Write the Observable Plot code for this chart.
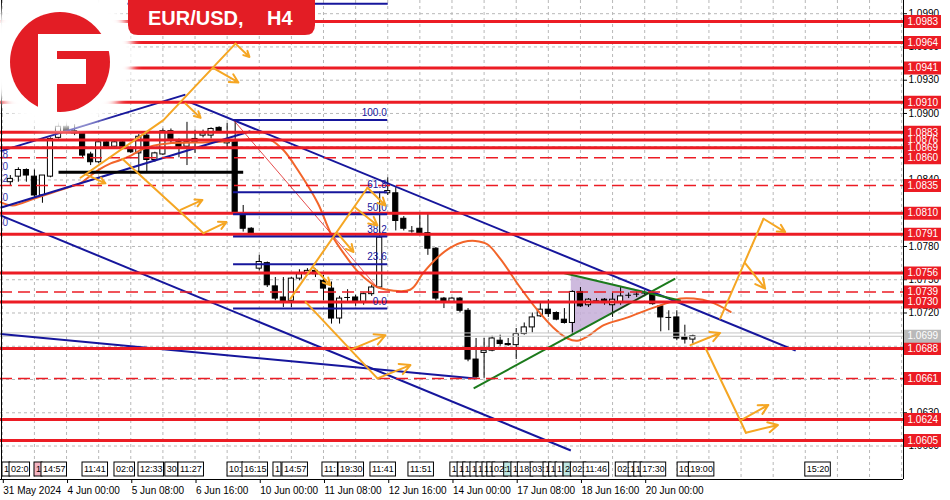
<!DOCTYPE html>
<html><head><meta charset="utf-8">
<script src="https://cdn.jsdelivr.net/npm/d3@7"></script>
<script src="https://cdn.jsdelivr.net/npm/@observablehq/plot@0.6"></script>
<style>
body{margin:0;background:#fff;}
#chart{width:950px;height:500px;}
</style></head><body><div id="chart"></div>
<script>
// EUR/USD H4 candles, bar 1 = 31 May 2024 20:00
const opens  = [1.0838,1.0843,1.0849,1.0843,1.0826,1.0843,1.0878,1.0888,1.0884,1.0882,1.0863,1.0856,1.0874,1.0870,1.0874,1.0868,1.0864,1.0880,1.0858,1.0863,1.0884,1.0874,1.0870,1.0874,1.0880,1.0880,1.0887,1.0873,1.0876,1.0808,1.0796,1.0760,1.0765,1.0744,1.0734,1.0731,1.0751,1.0755,1.0758,1.0749,1.0742,1.0715,1.0734,1.0734,1.0730,1.0737,1.0743,1.0828,1.0828,1.0805,1.0794,1.0796,1.0792,1.0778,1.0733,1.0730,1.0733,1.0722,1.0678,1.0684,1.0686,1.0695,1.0692,1.0691,1.0701,1.0707,1.0717,1.0723,1.0720,1.0714,1.0711,1.0739,1.0727,1.0731,1.0732,1.0727,1.0729,1.0736,1.0737,1.0738,1.0738,1.0726,1.0716,1.0716,1.0698,1.0696];
const highs  = [1.0844,1.0851,1.0850,1.0849,1.0844,1.0878,1.0892,1.0895,1.0890,1.0882,1.0865,1.0876,1.0876,1.0876,1.0875,1.0870,1.0881,1.0882,1.0865,1.0886,1.0886,1.0877,1.0892,1.0885,1.0885,1.0887,1.0888,1.0891,1.0894,1.0817,1.0797,1.0772,1.0766,1.0752,1.0752,1.0752,1.0759,1.0760,1.0760,1.0754,1.0748,1.0735,1.0741,1.0736,1.0738,1.0745,1.0829,1.0842,1.0833,1.0807,1.0798,1.0810,1.0810,1.0779,1.0734,1.0734,1.0734,1.0724,1.0697,1.0697,1.0699,1.0700,1.0697,1.0706,1.0711,1.0720,1.0729,1.0732,1.0721,1.0724,1.0740,1.0743,1.0733,1.0733,1.0733,1.0738,1.0743,1.0738,1.0739,1.0740,1.0740,1.0727,1.0722,1.0722,1.0709,1.0700];
const lows   = [1.0835,1.0838,1.0838,1.0823,1.0819,1.0842,1.0877,1.0882,1.0880,1.0860,1.0853,1.0855,1.0868,1.0868,1.0868,1.0864,1.0846,1.0846,1.0856,1.0862,1.0873,1.0860,1.0853,1.0864,1.0878,1.0877,1.0882,1.0869,1.0810,1.0793,1.0791,1.0758,1.0743,1.0731,1.0725,1.0725,1.0749,1.0754,1.0752,1.0731,1.0710,1.0710,1.0730,1.0726,1.0727,1.0735,1.0742,1.0826,1.0794,1.0794,1.0792,1.0791,1.0772,1.0731,1.0724,1.0729,1.0720,1.0676,1.0661,1.0661,1.0685,1.0690,1.0690,1.0678,1.0700,1.0702,1.0716,1.0716,1.0713,1.0710,1.0700,1.0725,1.0725,1.0729,1.0727,1.0716,1.0727,1.0733,1.0734,1.0735,1.0727,1.0703,1.0704,1.0695,1.0692,1.0692];
const closes = [1.0841,1.0849,1.0844,1.0826,1.0844,1.0877,1.0888,1.0884,1.0882,1.0862,1.0856,1.0874,1.0870,1.0874,1.0870,1.0865,1.0879,1.0858,1.0864,1.0884,1.0877,1.0870,1.0874,1.0877,1.0882,1.0886,1.0884,1.0875,1.0811,1.0796,1.0792,1.0766,1.0745,1.0733,1.0730,1.0751,1.0755,1.0758,1.0755,1.0742,1.0715,1.0733,1.0734,1.0730,1.0737,1.0743,1.0788,1.0830,1.0803,1.0796,1.0794,1.0792,1.0778,1.0733,1.0730,1.0733,1.0722,1.0678,1.0662,1.0686,1.0697,1.0692,1.0691,1.0701,1.0707,1.0716,1.0723,1.0719,1.0714,1.0711,1.0739,1.0726,1.0732,1.0731,1.0729,1.0732,1.0735,1.0736,1.0737,1.0738,1.0728,1.0716,1.0716,1.0697,1.0696,1.0699];

// moving average (bar position, price)
const maBars   = [-0.22,1.3,3.9,6.0,8.1,9.7,11.0,12.2,13.5,14.7,16.0,17.2,18.8,20.6,25.6,28.0,31.5,33.4,35.0,36.8,39.3,40.9,42.5,44.2,45.9,46.8,50.8,52.4,54.2,55.8,57.4,58.9,60.4,62.0,64.5,66.6,68.6,70.4,71.6,72.9,74.9,77.9,80.4,82.8,84.5,86.1,88.2,90.7];
const maPrices = [1.0820,1.0817,1.0823,1.0828,1.0833,1.0837,1.0844,1.0850,1.0855,1.0858,1.0862,1.0867,1.0871,1.0873,1.0874,1.0875,1.0877,1.0876,1.0867,1.0849,1.0819,1.0792,1.0774,1.0758,1.0747,1.0743,1.0741,1.0756,1.0770,1.0779,1.0784,1.0785,1.0782,1.0769,1.0743,1.0723,1.0707,1.0697,1.0695,1.0699,1.0709,1.0716,1.0723,1.0729,1.0733,1.0733,1.0730,1.0721];

// support / resistance levels
const levelsSolid  = [1.0983,1.0964,1.0941,1.0910,1.0883,1.0876,1.0869,1.0810,1.0791,1.0756,1.0730,1.0688,1.0624,1.0605];
const levelsDashed = [1.0860,1.0835,1.0739,1.0661];
const lastPrice = 1.0699;
const askPrice = 1.0702;

// Fibonacci retracement
const fibNames  = ["100.0","61.8","50.0","38.2","23.6","0.0"];
const fibPrices = [1.0894,1.0829,1.0809,1.0789,1.0764,1.0724];
const fibFrom = 28.8, fibTo = 48.0;
// ends of an older retracement's labels at the left edge
const oldFibNames  = ["8","0","2","0","0"];
const oldFibPrices = [1.0858,1.0847,1.0837,1.0819,1.0797];

// trend lines: [bar1, price1, bar2, price2]
const blueLines = [
  [23.4,1.0910,98.8,1.0686],
  [-0.22,1.0866,22.8,1.0917],
  [-0.22,1.0815,30.9,1.0884],
  [-0.22,1.0808,70.8,1.0596],
  [-0.22,1.0701,58.9,1.0661],
  [15.6,1.0999,48.0,1.0999]
];
const blackLines = [[7.0,1.0847,30.0,1.0847]];
const greenLines = [[58.7,1.0652,83.8,1.0751],[69.9,1.0756,84.5,1.0731]];
const triangle = [[70.8,1.0754],[80.7,1.0739],[70.8,1.0699]];
const triangleEdge = [75.7,1.0719,80.7,1.0739];
const fibDiagonal = [28.8,1.0894,46.7,1.0743];

// scenario paths and arrows
const scenarioPaths = [
  [[9.74,1.0842],[20.07,1.0894],[29.04,1.0963]],
  [[14.97,1.0859],[25.06,1.0792]],
  [[35.89,1.0733],[45.48,1.0833]],
  [[37.76,1.0730],[46.72,1.0661]],
  [[89.4,1.0715],[94.8,1.0805]],
  [[87.6,1.0688],[91.9,1.0623],[92.6,1.0612]]
];
const scenarioArrows = [
  [29.04,1.0963,30.78,1.0951],[26.3,1.0941,29.4,1.0928],[22.8,1.0909,24.7,1.0896],[10.4,1.0845,12.85,1.0837],
  [25.06,1.0792,27.92,1.0802],[22.19,1.0813,24.93,1.0822],
  [45.48,1.0833,47.72,1.0817],[43.98,1.0815,46.72,1.0799],[41.74,1.0792,43.74,1.0775],[38.76,1.0761,40.87,1.0745],
  [46.72,1.0661,50.83,1.0673],[43.4,1.0687,47.72,1.0700],
  [85.7,1.0691,89.4,1.0702],
  [94.8,1.0805,97.5,1.0793],[92.5,1.0765,95.0,1.0742],
  [91.9,1.0623,95.4,1.0637],[92.6,1.0612,96.6,1.0619]
];

// axes
const yTicks = [1.0600,1.0630,1.0660,1.0690,1.0720,1.0750,1.0780,1.0810,1.0840,1.0870,1.0900,1.0930,1.0960,1.0990];
const tickBars = [0,8,16,24,32,40,48,56,64,72,80];
const tickLabels = ["31 May 2024","4 Jun 00:00","5 Jun 08:00","6 Jun 16:00","10 Jun 00:00","11 Jun 08:00","12 Jun 16:00","14 Jun 00:00","17 Jun 08:00","18 Jun 16:00","20 Jun 00:00"];

// event time markers along the bottom
const eventBars  = [0.02,0.9,4.01,4.88,9.99,13.97,16.96,20.3,21.94,28.05,29.91,33.77,34.89,39.87,41.87,45.85,50.58,55.8,56.7,57.4,58.3,59.05,59.8,60.4,61.05,62.5,63.4,64.2,65.8,67.4,68.1,68.9,69.9,70.8,72.4,76.4,78.0,78.7,79.5,84.1,85.5,100.0];
const eventTexts = ["1","02:0","1","14:57","11:41","02:0","12:33","30","11:27","10:","16:15","1","14:57","11:","19:30","11:41","11:51","1","1","1","1","1","1","1","02:","1","1","18:","03:","1","1","1","2","02:","11:46","02:","1","1","17:30","10","19:00","15:20"];
const eventKinds = ["w","w","p","w","w","w","w","w","w","w","w","w","w","w","w","w","w","w","w","w","w","w","w","w","w","c","w","w","w","w","w","w","c","w","w","w","w","w","w","w","w","w"];

// ---- layout ----
const plotRight = 903, plotBottom = 479;
const xDomain = [-0.224, 112.23];
const yDomain = [1.05698, 1.10019];
const pxPerBar = plotRight / (xDomain[1] - xDomain[0]);
const xAt = px => xDomain[0] + px / pxPerBar;
const pricePerPx = (yDomain[1] - yDomain[0]) / plotBottom;
const yAt = px => yDomain[1] - px * pricePerPx;

const RED = "#ec1c24", BLUE = "#16169c", GREEN = "#1b7a1b", ORANGE = "#f5a623", MA = "#f2652a";

const candles = opens.map((o, i) => ({k: i + 1, o, h: highs[i], l: lows[i], c: closes[i]}));
const bodies = candles.filter(d => d.o !== d.c);
const dojis = candles.filter(d => d.o === d.c);
const ma = maBars.map((k, i) => ({k, p: maPrices[i]}));
const seg = a => ({x1: a[0], y1: a[1], x2: a[2], y2: a[3]});
const paths = scenarioPaths.flatMap((pts, z) => pts.map(([k, p]) => ({k, p, z})));
const fibs = fibNames.map((n, i) => ({n, p: fibPrices[i]}));
const oldFibs = oldFibNames.map((n, i) => ({n, p: oldFibPrices[i]}));
const labelOf = new Map(tickBars.map((b, i) => [b, tickLabels[i]]));
const charW = ch => ch === ":" ? 2.5 : 5;
const events = eventBars.map((k, i) => {
  const t = eventTexts[i];
  const w = 3 + [...t].reduce((s, ch) => s + charW(ch), 0);
  return {k, t, w, kind: eventKinds[i]};
});
const eventFill = {w: "white", p: "#f5b5c3", c: "#bfe8e4"};
const tri = triangle.map(([k, p]) => ({k, p}));
const priceLabels = levelsSolid.concat(levelsDashed);
// scale labels that would sit entirely under a level tag are left unprinted
const allTags = priceLabels.concat([lastPrice]);
const tickVisible = t => !allTags.some(p => Math.abs(p - t) < 0.00025);

const chart = Plot.plot({
  width: 950, height: 500,
  marginLeft: 0, marginRight: 950 - plotRight, marginTop: 0, marginBottom: 500 - plotBottom,
  x: {domain: xDomain, axis: null},
  y: {domain: yDomain, axis: null},
  style: {fontFamily: "'Liberation Sans', Arial, sans-serif", fontSize: "10px", background: "white", overflow: "visible"},
  marks: [
    // grid
    Plot.ruleY(yTicks, {stroke: "#b8b8b8", strokeDasharray: "3,3", strokeWidth: 1}),
    Plot.ruleX(d3.range(0, 113, 4), {stroke: "#b8b8b8", strokeDasharray: "3,3", strokeWidth: 1}),
    // consolidation triangle
    Plot.line(tri.concat([tri[0]]), {x: "k", y: "p", fill: "#c6aed8", fillOpacity: 0.85, stroke: "none"}),
    // candles
    Plot.ruleX(candles, {x: "k", y1: "l", y2: "h", stroke: "black", strokeWidth: 1}),
    Plot.rect(bodies, {x1: d => d.k - 0.32, x2: d => d.k + 0.32, y1: "o", y2: "c", fill: d => d.c > d.o ? "white" : "black", stroke: "black", strokeWidth: 1}),
    Plot.ruleY(dojis, {y: "o", x1: d => d.k - 0.36, x2: d => d.k + 0.36, stroke: "black", strokeWidth: 1}),
    // moving average
    Plot.line(ma, {x: "k", y: "p", stroke: MA, strokeWidth: 2, curve: "catmull-rom"}),
    // bid / ask
    Plot.ruleY([askPrice, lastPrice], {stroke: "#c4c4c4", strokeWidth: 1}),
    // trend lines
    Plot.link(blueLines.map(seg), {x1: "x1", y1: "y1", x2: "x2", y2: "y2", stroke: BLUE, strokeWidth: 2}),
    Plot.link(blackLines.map(seg), {x1: "x1", y1: "y1", x2: "x2", y2: "y2", stroke: "black", strokeWidth: 3}),
    Plot.link([seg(fibDiagonal)], {x1: "x1", y1: "y1", x2: "x2", y2: "y2", stroke: "#e02020", strokeWidth: 0.8}),
    Plot.link(greenLines.map(seg), {x1: "x1", y1: "y1", x2: "x2", y2: "y2", stroke: GREEN, strokeWidth: 2}),
    Plot.link([seg(triangleEdge)], {x1: "x1", y1: "y1", x2: "x2", y2: "y2", stroke: "#222", strokeWidth: 1}),
    // levels
    Plot.ruleY(levelsSolid, {stroke: RED, strokeWidth: 3}),
    Plot.ruleY(levelsDashed, {stroke: RED, strokeWidth: 1.5, strokeDasharray: "12,6"}),
    // Fibonacci
    Plot.ruleY(fibs, {y: "p", x1: () => fibFrom, x2: () => fibTo, stroke: BLUE, strokeWidth: 2}),
    Plot.text(fibs, {x: () => fibTo, y: "p", text: "n", textAnchor: "end", dy: -7, dx: -1, fill: BLUE, fontSize: 10}),
    Plot.text(oldFibs, {x: () => xAt(2), y: "p", text: "n", textAnchor: "start", dy: -5, fill: "#3a3ab0", fontSize: 10}),
    // scenarios
    Plot.line(paths, {x: "k", y: "p", z: "z", stroke: ORANGE, strokeWidth: 2}),
    Plot.arrow(scenarioArrows.map(seg), {x1: "x1", y1: "y1", x2: "x2", y2: "y2", stroke: ORANGE, strokeWidth: 2, headLength: 9, headAngle: 55}),
    // frame
    Plot.ruleX([xDomain[0] + 1 / pxPerBar, xDomain[1]], {stroke: "black", strokeWidth: 1}),
    Plot.ruleY([yDomain[0]], {stroke: "black", strokeWidth: 1}),
    // price scale
    Plot.axisY(yTicks, {anchor: "right", tickFormat: d => tickVisible(d) ? d.toFixed(4) : "", tickSize: 3, tickPadding: 2, fontSize: 10, fill: "black"}),
    Plot.ruleY(priceLabels, {x1: () => xAt(904), x2: () => xAt(941), stroke: RED, strokeWidth: 13}),
    Plot.text(priceLabels, {x: () => xAt(907), y: d => d, text: d => d.toFixed(4), textAnchor: "start", fill: "white", fontSize: 10}),
    Plot.ruleY([lastPrice], {x1: () => xAt(904), x2: () => xAt(941), stroke: "#b9b9b9", strokeWidth: 13}),
    Plot.text([lastPrice], {x: () => xAt(907), y: d => d, text: d => d.toFixed(4), textAnchor: "start", fill: "white", fontSize: 10}),
    // time scale
    Plot.axisX(tickBars, {anchor: "bottom", tickFormat: d => labelOf.get(d), tickSize: 4, tickPadding: 3, textAnchor: "start", dx: 1, fontSize: 10, fill: "black"}),
    // event markers
    Plot.rect(events, {x1: "k", x2: d => d.k + d.w / pxPerBar, y1: () => yAt(476), y2: () => yAt(462), fill: d => eventFill[d.kind], stroke: "black", strokeWidth: 1}),
    Plot.text(events, {x: d => d.k + 1.5 / pxPerBar, y: () => yAt(469), text: "t", textAnchor: "start", fontSize: 9, fill: "black"})
  ]
});
document.getElementById("chart").append(chart);

// brand logo and instrument title
const svg = d3.select(chart);
const defs = svg.append("defs");
defs.append("filter").attr("id", "soft").append("feGaussianBlur").attr("stdDeviation", 4);
const logo = svg.append("g");
logo.append("circle").attr("cx", 60).attr("cy", 56).attr("r", 74).attr("fill", "white").attr("filter", "url(#soft)");
logo.append("circle").attr("cx", 60).attr("cy", 62).attr("r", 50).attr("fill", "#e31d25");
logo.append("rect").attr("x", 38).attr("y", 34).attr("width", 19).attr("height", 80).attr("fill", "white");
logo.append("rect").attr("x", 38).attr("y", 34).attr("width", 76).attr("height", 17).attr("fill", "white");
logo.append("rect").attr("x", 57).attr("y", 59).attr("width", 29).attr("height", 25).attr("fill", "white");
const title = svg.append("g");
title.append("path").attr("d", "M128,0 H315 V25 Q315,35 305,35 H138 Q128,35 128,25 Z").attr("fill", "#e31d25");
title.append("text").attr("x", 148).attr("y", 25).attr("fill", "white").attr("text-anchor", "start")
  .attr("font-family", "'Liberation Sans', Arial, sans-serif").attr("font-weight", "bold").attr("font-size", 20)
  .text("EUR/USD,").append("tspan").attr("x", 267).text("H4");
</script>
</body></html>
